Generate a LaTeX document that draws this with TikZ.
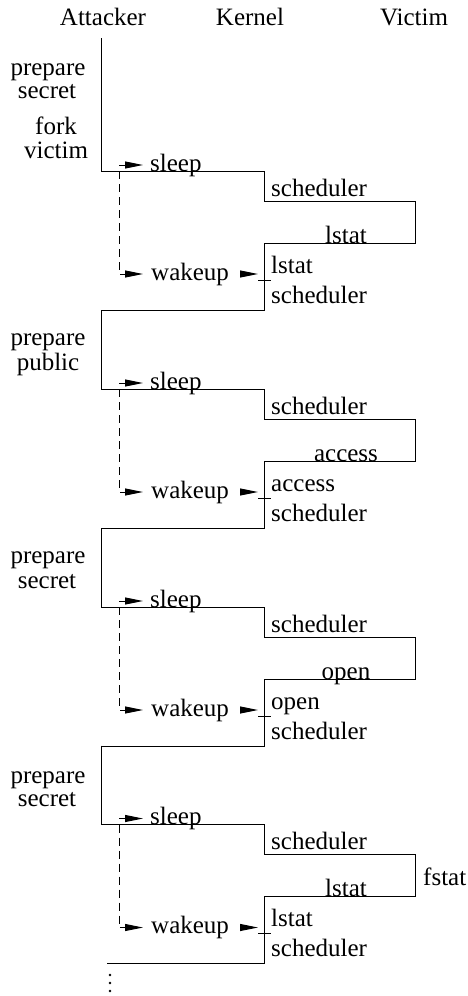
\documentclass[tikz,border=0pt]{standalone}
\usepackage{fontspec}
\setmainfont{Liberation Serif}
\usetikzlibrary{arrows.meta}
\tikzset{
  lbl/.style={inner sep=0pt, font=\fontsize{25}{28}\selectfont},
  tl/.style={line width=1pt, line join=miter},
  tip/.style={-{Triangle[length=18pt,width=7pt]}, line width=1pt},
  dsh/.style={dash pattern=on 8pt off 5pt, line width=0.9pt},
  tick/.style={line width=0.9pt},
}
\begin{document}
\begin{tikzpicture}[x=1pt,y=-1pt]
\useasboundingbox (0,0) rectangle (467,996);
% headers
\node[lbl,anchor=base] (hA) at (103,25) {Attacker};
\node[lbl,anchor=base] (hK) at (250,25) {Kernel};
\node[lbl,anchor=base] (hV) at (414,25) {Victim};
% first left labels
\node[lbl,anchor=base] (p1a) at (48,75) {prepare};
\node[lbl,anchor=base] (p1b) at (47,98) {secret};
\node[lbl,anchor=base] (fk1) at (56,134) {fork};
\node[lbl,anchor=base] (fk2) at (56,158) {victim};
% later left labels
\node[lbl,anchor=base] (p2a) at (48,345) {prepare};
\node[lbl,anchor=base] (p2b) at (48,370) {public};
\node[lbl,anchor=base] (p3a) at (48,563) {prepare};
\node[lbl,anchor=base] (p3b) at (47,588) {secret};
\node[lbl,anchor=base] (p4a) at (48,783) {prepare};
\node[lbl,anchor=base] (p4b) at (47,806) {secret};
% blocks
\foreach \i/\S/\T/\hx/\vr/\kr in {1/171/38/101/lstat/lstat, 2/389/310/101/access/access, 3/607/528/101/open/open, 4/824.5/745.5/107/lstat/lstat}{
  \coordinate (t\i) at (101,\T);
  \coordinate (a\i) at (101,\S);
  \coordinate (b\i) at (264,\S);
  \coordinate (c\i) at (264,\S+30);
  \coordinate (d\i) at (415,\S+30);
  \coordinate (e\i) at (415,\S+72);
  \coordinate (f\i) at (264,\S+72);
  \coordinate (g\i) at (264,\S+139);
  \coordinate (h\i) at (\hx,\S+139);
  \draw[tl] (t\i) -- (a\i) -- (b\i) -- (c\i) -- (d\i) -- (e\i) -- (f\i) -- (g\i) -- (h\i);
  \node[lbl,anchor=base west] (sl\i) at (150,\S) {sleep};
  \node[lbl,anchor=base west] (sch\i) at (271,\S+25) {scheduler};
  \node[lbl,anchor=base] (vr\i) at (346,\S+72) {\vr};
  \node[lbl,anchor=base west] (kr\i) at (271,\S+102) {\kr};
  \node[lbl,anchor=base west] (schb\i) at (271,\S+132) {scheduler};
  \node[lbl,anchor=base west] (wk\i) at (151,\S+109) {wakeup};
  \coordinate (sa\i) at (119,\S-6);
  \coordinate (sb\i) at (143,\S-6);
  \draw[tip] (sa\i) -- (sb\i);
  \coordinate (da\i) at (119,\S);
  \coordinate (db\i) at (143,\S+103);
  \draw[dsh,-{Triangle[length=18pt,width=7pt]}] (da\i) |- (db\i);
  \coordinate (wa\i) at (240,\S+103);
  \coordinate (wb\i) at (258,\S+103);
  \draw[tip] (wa\i) -- (wb\i);
  \coordinate (ka\i) at (258,\S+109);
  \coordinate (kb\i) at (271,\S+109);
  \draw[tick] (ka\i) -- (kb\i);
}
\node[lbl,anchor=base west] (fst) at (423,885) {fstat};
\fill (110,975) circle (1.3pt) (110,983) circle (1.3pt) (110,991) circle (1.3pt);
\end{tikzpicture}
\end{document}
